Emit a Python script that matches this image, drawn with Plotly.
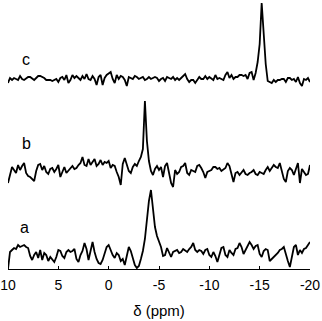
import numpy as np
import plotly.graph_objects as go

# chemical shift axis (ppm), evenly sampled from 10 to -20
ppm = np.linspace(10, -20, 151)

spec_a = [0, 17, 19, 21, 20, 24, 22, 23, 24, 22,
          21, 13, 9, 14, 17, 11, 19, 9, 16, 14,
          8, 12, 10, 7, 12, 19, 18, 13, 11, 17,
          19, 17, 18, 20, 10, 7, 14, 18, 26, 20,
          9, 18, 27, 17, 10, 6, 5, 9, 16, 22,
          24, 19, 14, 11, 16, 14, 8, 10, 4, 13,
          22, 18, 10, 4, 1, 3, 10, 18, 30, 48,
          68, 79, 62, 42, 33, 27,
          22, 13, 14, 21, 16, 12, 17, 18, 19, 16,
          17, 20, 18, 17, 20, 22, 26, 19, 17, 19,
          18, 15, 19, 20, 14, 12, 17, 13, 7, 15,
          21, 22, 14, 12, 19, 16, 14, 20, 21, 26,
          22, 15, 19, 23, 27, 24, 20, 23, 24, 15,
          12, 18, 20, 19, 8, 10, 12, 13, 16, 19,
          20, 22, 14, 8, 2, 12, 22, 24, 14, 19,
          16, 20, 21, 24, 27]

spec_b = [6, 15, 22, 19, 16, 24, 19, 23, 26, 16,
          13, 12, 10, 8, 18, 24, 25, 19, 23, 17,
          15, 20, 21, 17, 20, 24, 12, 18, 22, 16,
          18, 20, 23, 20, 21, 24, 26, 32, 24, 23,
          30, 24, 27, 30, 23, 25, 29, 24, 27, 26,
          28, 21, 24, 23, 17, 12, 4, 25, 31, 24,
          18, 16, 22, 25, 23, 28, 32, 40, 88, 48,
          28, 18, 14, 20, 23, 19,
          22, 12, 23, 26, 17, 6, 2, 19, 15, 17,
          22, 23, 26, 16, 14, 19, 18, 17, 23, 24,
          21, 17, 11, 17, 18, 19, 22, 22, 20, 21,
          18, 20, 21, 26, 23, 15, 7, 16, 17, 14,
          16, 19, 15, 14, 16, 17, 19, 15, 14, 17,
          16, 15, 19, 22, 18, 21, 24, 22, 21, 26,
          18, 10, 7, 18, 21, 19, 14, 20, 26, 6,
          20, 17, 14, 15, 24]

spec_c = [16, 21, 19, 21, 20, 19, 23, 20, 19, 21,
          22, 22, 20, 19, 21, 23, 23, 22, 21, 19,
          19, 19, 18, 19, 20, 17, 21, 22, 19, 24,
          16, 19, 24, 21, 23, 21, 19, 23, 20, 25,
          20, 19, 23, 20, 14, 22, 24, 14, 21, 24,
          26, 27, 20, 16, 24, 20, 23, 22, 19, 13,
          22, 21, 20, 23, 22, 20, 21, 22, 19, 20,
          22, 20, 21, 22, 21, 18,
          20, 21, 18, 22, 21, 20, 22, 19, 21, 19,
          21, 23, 25, 20, 17, 19, 19, 16, 19, 22,
          20, 20, 23, 20, 22, 20, 19, 24, 20, 21,
          20, 19, 24, 27, 21, 24, 20, 22, 22, 24,
          24, 23, 24, 20, 26, 27, 19, 26, 37, 55,
          96, 68, 35, 18, 17, 16, 19, 17, 19, 19,
          20, 20, 17, 21, 21, 19, 20, 17, 22, 16,
          13, 20, 19, 21, 17]

labels = ["a", "b", "c"]
spectra = [spec_a, spec_b, spec_c]
offsets = [0, 80, 170]
label_pos = [(8.4, 42), (8.2, 126), (8.2, 210)]

tick_vals = [10, 5, 0, -5, -10, -15, -20]
tick_text = ["10", "5", "0", "-5", "-10", "-15", "-20"]

fig = go.Figure()
for spec, off in zip(spectra, offsets):
    fig.add_trace(go.Scatter(
        x=ppm, y=np.array(spec) + off, mode="lines",
        line=dict(color="black", width=1.8), showlegend=False,
        hoverinfo="skip"))

for lab, (lx, ly) in zip(labels, label_pos):
    fig.add_annotation(x=lx, y=ly, xref="x", yref="y", text=lab,
                       showarrow=False,
                       font=dict(family="Liberation Sans, Arial", size=16, color="black"))

fig.update_layout(
    width=322, height=321,
    margin=dict(l=8, r=12, t=0, b=52),
    paper_bgcolor="white", plot_bgcolor="white",
    font=dict(family="Liberation Sans, Arial", size=14, color="black"),
    xaxis=dict(range=[10, -20], tickvals=tick_vals, ticktext=tick_text,
               showline=True, linecolor="black", linewidth=1.3,
               ticks="inside", ticklen=3, tickwidth=1.2, tickcolor="black",
               tickfont=dict(size=14), ticklabelstandoff=3,
               ticklabeloverflow="allow",
               showgrid=False, zeroline=False,
               title=dict(text="δ (ppm)", standoff=13,
                          font=dict(size=15))),
    yaxis=dict(range=[0, 269], visible=False, showgrid=False, zeroline=False),
)

fig.write_html("out.html")
